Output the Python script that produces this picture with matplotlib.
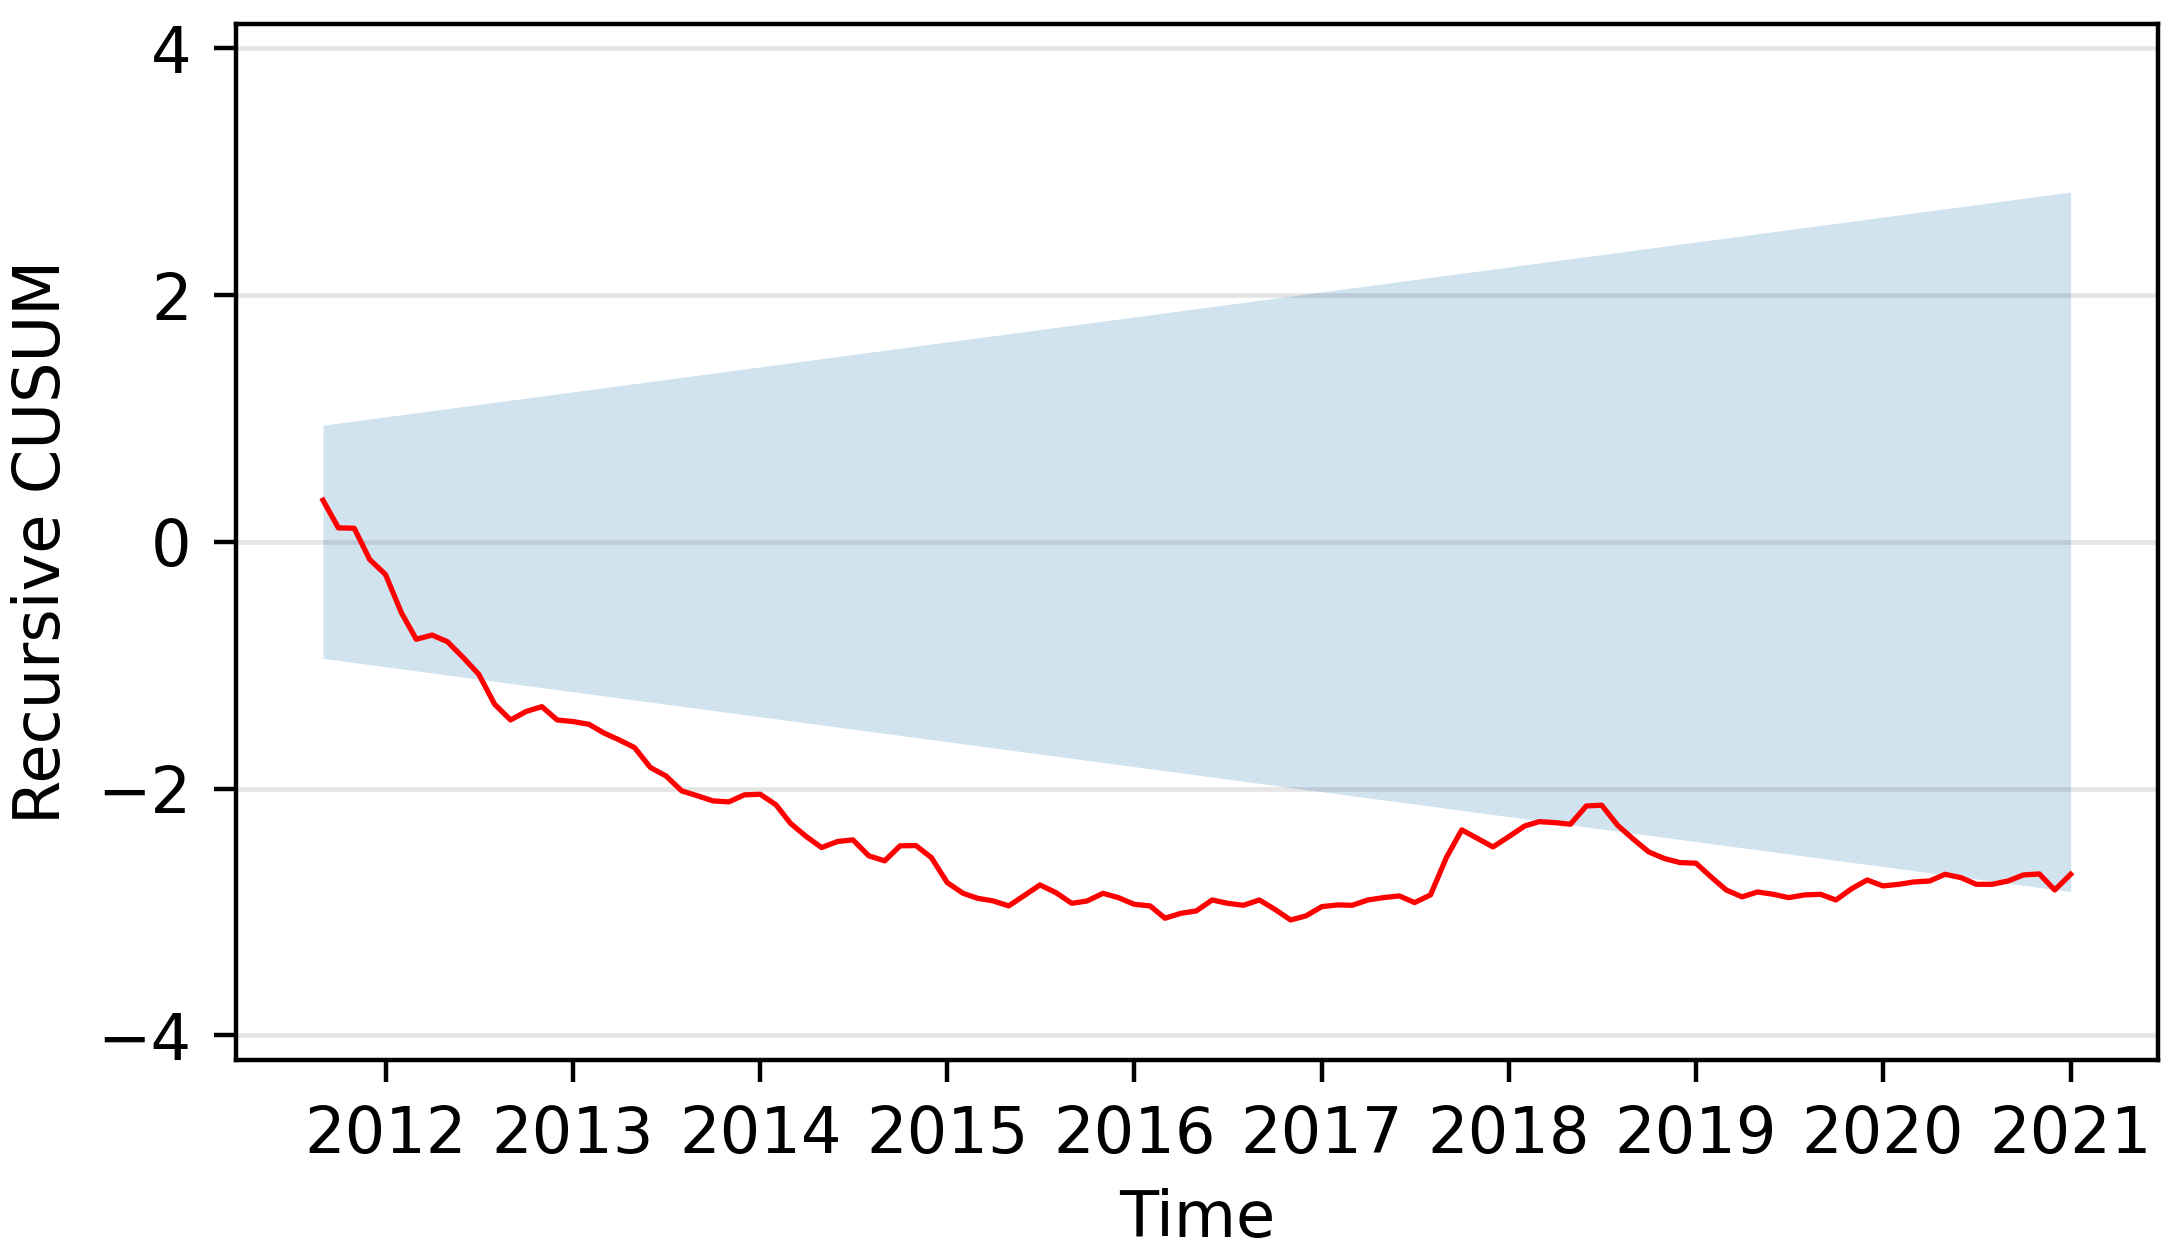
import matplotlib
matplotlib.use("Agg")
import matplotlib.pyplot as plt
import matplotlib.dates as mdates
import pandas as pd

# ---- data ----
start_month = "2011-09-01"
cusum = [
    0.337, 0.113, 0.110, -0.143, -0.265, -0.575, -0.790, -0.756, -0.810, -0.940,
    -1.074, -1.317, -1.444, -1.376, -1.336, -1.444, -1.457, -1.479, -1.547, -1.606,
    -1.668, -1.830, -1.897, -2.019, -2.059, -2.100, -2.108, -2.051, -2.046, -2.132,
    -2.281, -2.389, -2.478, -2.429, -2.416, -2.545, -2.586, -2.464, -2.462, -2.559,
    -2.762, -2.849, -2.889, -2.911, -2.951, -2.865, -2.781, -2.843, -2.930, -2.911,
    -2.849, -2.884, -2.938, -2.951, -3.051, -3.011, -2.992, -2.903, -2.930, -2.946,
    -2.903, -2.978, -3.065, -3.032, -2.957, -2.943, -2.946, -2.903, -2.884, -2.870,
    -2.924, -2.862, -2.559, -2.335, -2.405, -2.473, -2.389, -2.303, -2.268, -2.276,
    -2.289, -2.141, -2.135, -2.297, -2.411, -2.514, -2.568, -2.600, -2.605, -2.722,
    -2.822, -2.878, -2.838, -2.857, -2.884, -2.862, -2.857, -2.903, -2.811, -2.741,
    -2.789, -2.776, -2.757, -2.749, -2.695, -2.722, -2.776, -2.776, -2.749, -2.700,
    -2.692, -2.822, -2.695,
]
band_upper = [0.945, 2.835]
band_lower = [-0.945, -2.835]
yticks = [-4, -2, 0, 2, 4]
xlabel = "Time"
ylabel = "Recursive CUSUM"

dates = pd.date_range(start_month, periods=len(cusum), freq="MS")
band_dates = [dates[0], dates[-1]]

# ---- figure ----
DPI = 400
fig = plt.figure(figsize=(2173 / DPI, 1252 / DPI), dpi=DPI)
ax = fig.add_axes([235.6 / 2173, 1 - 1060 / 1252, (2158 - 235.6) / 2173, (1060 - 23.6) / 1252])

ax.fill_between(band_dates, band_lower, band_upper, color="C0", alpha=0.2, linewidth=0, zorder=1)
ax.plot(dates, cusum, color="red", linewidth=0.95, zorder=3)

ax.set_ylim(-4.2, 4.2)
ax.set_yticks(yticks)
ax.xaxis.set_major_locator(mdates.YearLocator())
ax.xaxis.set_major_formatter(mdates.DateFormatter("%Y"))
ax.grid(axis="y", color="k", alpha=0.1, linewidth=0.85, zorder=2)
ax.grid(axis="x", visible=False)

for sp in ax.spines.values():
    sp.set_linewidth(0.8)
ax.tick_params(axis="both", length=3.9, width=0.8, labelsize=11.5, pad=4)
ax.set_xlabel(xlabel, fontsize=11.5, labelpad=4)
ax.set_ylabel(ylabel, fontsize=11.5, labelpad=4.5)

fig.savefig("out.png", dpi=DPI)
